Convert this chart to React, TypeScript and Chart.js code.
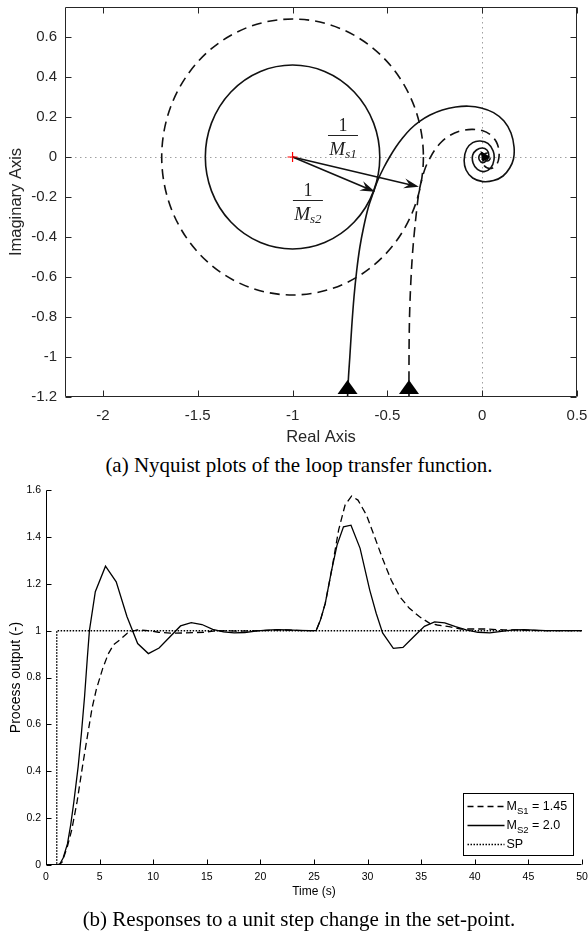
import React, { useEffect, useRef } from "react";
import { Chart, registerables } from "chart.js";
Chart.register(...registerables);

// ---------- (a) Nyquist plot data ----------
const nyqMs2X = [-0.710, -0.705, -0.698, -0.688, -0.676, -0.662, -0.645, -0.625, -0.600, -0.575, -0.550, -0.520, -0.488, -0.455, -0.420, -0.378, -0.330, -0.275, -0.210, -0.140, -0.070, -0.005, 0.060, 0.115, 0.152, 0.168, 0.165, 0.145, 0.110, 0.060, 0.003, -0.050, -0.085, -0.095, -0.082, -0.050, -0.010, 0.030, 0.058, 0.062, 0.045, 0.010, -0.025, -0.048, -0.050, -0.030, 0.000, 0.025, 0.035, 0.025, 0.003, -0.015, -0.015, 0.000, 0.012];
const nyqMs2Y = [-1.200, -1.100, -1.000, -0.850, -0.700, -0.570, -0.450, -0.350, -0.250, -0.180, -0.115, -0.055, 0.000, 0.050, 0.095, 0.140, 0.178, 0.210, 0.235, 0.250, 0.254, 0.245, 0.222, 0.180, 0.120, 0.050, -0.010, -0.055, -0.095, -0.118, -0.123, -0.105, -0.065, -0.015, 0.040, 0.072, 0.080, 0.068, 0.030, -0.015, -0.055, -0.073, -0.062, -0.030, 0.010, 0.035, 0.045, 0.035, 0.010, -0.015, -0.028, -0.015, 0.008, 0.018, 0.005];
const nyqMs1X = [-0.386, -0.386, -0.385, -0.382, -0.376, -0.368, -0.358, -0.346, -0.334, -0.318, -0.298, -0.275, -0.250, -0.215, -0.170, -0.115, -0.055, 0.000, 0.045, 0.075, 0.088, 0.088, 0.078, 0.055, 0.028, 0.008, 0.000, 0.008, 0.028, 0.042, 0.040, 0.025, 0.012];
const nyqMs1Y = [-1.200, -1.050, -0.900, -0.760, -0.620, -0.490, -0.380, -0.270, -0.180, -0.110, -0.050, -0.005, 0.035, 0.075, 0.108, 0.130, 0.138, 0.132, 0.110, 0.075, 0.035, -0.005, -0.035, -0.055, -0.055, -0.040, -0.015, 0.010, 0.020, 0.008, -0.012, -0.020, -0.008];
const circleCenter = [-1, 0];
const circleRadii = [0.69, 0.46]; // 1/Ms1 (dashed), 1/Ms2 (solid)
const arrowTipsX = [-0.334, -0.565];
const arrowTipsY = [-0.149, -0.174];
const fracLabels = ["s1", "s2"];
const fracX = [-0.734, -0.919];
const fracY = [0.11, -0.215];
const nyqXTicks = [-2, -1.5, -1, -0.5, 0, 0.5];
const nyqYTicks = [-1.2, -1, -0.8, -0.6, -0.4, -0.2, 0, 0.2, 0.4, 0.6];

// ---------- (b) Step response data ----------
const timeMs2 = [0, 1.0, 1.3, 1.6, 2.0, 2.3, 2.6, 3.0, 3.3, 3.6, 3.85, 4.05, 4.6, 5.55, 6.55, 7.55, 8.55, 9.55, 10.55, 12.55, 13.55, 14.55, 15.55, 16.55, 17.55, 18.55, 19.55, 20.55, 21.55, 22.55, 23.55, 24.55, 25.2, 25.6, 26.05, 26.65, 27.15, 27.75, 28.45, 29.3, 30.2, 30.8, 31.4, 32.4, 33.3, 34.3, 35.3, 36.25, 37.2, 38.2, 39.2, 40.3, 41.4, 42.5, 43.6, 44.6, 45.6, 46.6, 47.6, 48.6, 50];
const outMs2 = [0, 0, 0.005, 0.03, 0.09, 0.17, 0.27, 0.42, 0.56, 0.72, 0.88, 1.0, 1.166, 1.275, 1.208, 1.06, 0.945, 0.902, 0.926, 1.02, 1.034, 1.026, 1.005, 0.995, 0.99, 0.992, 0.998, 1.002, 1.004, 1.003, 1.001, 1.0, 1.0, 1.045, 1.116, 1.259, 1.365, 1.443, 1.45, 1.351, 1.173, 1.074, 0.99, 0.924, 0.928, 0.974, 1.018, 1.037, 1.033, 1.017, 1.003, 0.993, 0.99, 0.997, 1.003, 1.004, 1.002, 1.0, 1.0, 1.0, 1.0];
const timeMs1 = [0, 1.2, 1.5, 2.0, 2.4, 2.9, 3.4, 3.9, 4.3, 4.7, 5.3, 5.8, 6.3, 7.0, 7.6, 8.5, 9.5, 10.5, 11.6, 13.0, 14.7, 16.0, 18.0, 20.0, 22.0, 24.0, 25.2, 25.6, 26.05, 26.65, 27.3, 27.9, 28.5, 29.1, 29.9, 30.7, 31.45, 32.2, 33.0, 33.9, 34.85, 35.8, 36.5, 37.6, 38.7, 40.9, 42.7, 44.0, 46.0, 48.0, 50];
const outMs1 = [0, 0, 0.012, 0.08, 0.15, 0.27, 0.42, 0.56, 0.67, 0.75, 0.84, 0.9, 0.94, 0.965, 0.99, 1.003, 1.0, 0.993, 0.989, 0.99, 0.993, 1.0, 0.998, 1.0, 1.003, 1.0, 1.0, 1.045, 1.116, 1.259, 1.43, 1.536, 1.574, 1.557, 1.493, 1.394, 1.301, 1.216, 1.145, 1.095, 1.059, 1.031, 1.024, 1.017, 1.007, 1.007, 1.003, 1.003, 1.0, 1.0, 1.0];
const timeSP = [0, 1, 1, 50];
const outSP = [0, 0, 1, 1];
const respXTicks = [0, 5, 10, 15, 20, 25, 30, 35, 40, 45, 50];
const respYTicks = [0, 0.2, 0.4, 0.6, 0.8, 1, 1.2, 1.4, 1.6];
const legendMain = ["M", "M", "SP"];
const legendSub = ["S1", "S2", ""];
const legendRest = [" = 1.45", " = 2.0", ""];

const SANS = "'Liberation Sans', Arial, sans-serif";
const SERIF = "'Liberation Serif', 'Times New Roman', serif";

const pts = (xs: number[], ys: number[]) => xs.map((x, i) => ({ x, y: ys[i] }));

function frameTicks(id: string, box: boolean, len: number, color: string) {
  return {
    id,
    afterDraw(chart: any) {
      const { ctx, chartArea: a, scales } = chart;
      const x = scales.x, y = scales.y;
      ctx.save();
      ctx.strokeStyle = color;
      ctx.lineWidth = 1;
      ctx.setLineDash([]);
      const L = Math.round(a.left) + 0.5, R = Math.round(a.right) - 0.5;
      const T = Math.round(a.top) + 0.5, B = Math.round(a.bottom) - 0.5;
      ctx.beginPath();
      ctx.moveTo(L, T);
      ctx.lineTo(L, B);
      ctx.lineTo(R, B);
      if (box) {
        ctx.lineTo(R, T);
        ctx.lineTo(L, T);
      }
      ctx.stroke();
      ctx.beginPath();
      x.ticks.forEach((t: any) => {
        const px = Math.round(x.getPixelForValue(t.value)) + 0.5;
        ctx.moveTo(px, B);
        ctx.lineTo(px, B - len);
        if (box) {
          ctx.moveTo(px, T);
          ctx.lineTo(px, T + len);
        }
      });
      y.ticks.forEach((t: any) => {
        const py = Math.round(y.getPixelForValue(t.value)) + 0.5;
        ctx.moveTo(L, py);
        ctx.lineTo(L + len, py);
        if (box) {
          ctx.moveTo(R, py);
          ctx.lineTo(R - len, py);
        }
      });
      ctx.stroke();
      ctx.restore();
    },
  };
}

function drawArrow(ctx: CanvasRenderingContext2D, x1: number, y1: number, x2: number, y2: number) {
  const ang = Math.atan2(y2 - y1, x2 - x1);
  const c = Math.cos(ang), s = Math.sin(ang);
  const Lh = 15, W = 5;
  ctx.beginPath();
  ctx.moveTo(x1, y1);
  ctx.lineTo(x2 - Lh * 0.6 * c, y2 - Lh * 0.6 * s);
  ctx.stroke();
  ctx.beginPath();
  ctx.moveTo(x2, y2);
  ctx.lineTo(x2 - Lh * c + W * s, y2 - Lh * s - W * c);
  ctx.lineTo(x2 - Lh * 0.65 * c, y2 - Lh * 0.65 * s);
  ctx.lineTo(x2 - Lh * c - W * s, y2 - Lh * s + W * c);
  ctx.closePath();
  ctx.fill();
}

const nyquistDecor = {
  id: "nyquistDecor",
  beforeDatasetsDraw(chart: any) {
    const { ctx, chartArea: a, scales } = chart;
    const x = scales.x, y = scales.y;
    ctx.save();
    ctx.beginPath();
    ctx.rect(a.left, a.top, a.right - a.left, a.bottom - a.top);
    ctx.clip();
    ctx.strokeStyle = "#a0a0a0";
    ctx.lineWidth = 1;
    ctx.setLineDash([1.5, 3.5]);
    const x0 = Math.round(x.getPixelForValue(0)) + 0.5;
    const y0 = Math.round(y.getPixelForValue(0)) + 0.5;
    ctx.beginPath();
    ctx.moveTo(x0, a.top);
    ctx.lineTo(x0, a.bottom);
    ctx.moveTo(a.left, y0);
    ctx.lineTo(a.right, y0);
    ctx.stroke();
    ctx.strokeStyle = "#111";
    ctx.lineWidth = 1.6;
    const cx = x.getPixelForValue(circleCenter[0]);
    const cy = y.getPixelForValue(circleCenter[1]);
    circleRadii.forEach((r, i) => {
      ctx.setLineDash(i === 0 ? [10, 6] : []);
      const rx = x.getPixelForValue(circleCenter[0] + r) - cx;
      const ry = cy - y.getPixelForValue(circleCenter[1] + r);
      ctx.beginPath();
      ctx.ellipse(cx, cy, rx, ry, 0, 0, Math.PI * 2);
      ctx.stroke();
    });
    ctx.restore();
  },
  afterDatasetsDraw(chart: any) {
    const { ctx, scales } = chart;
    const x = scales.x, y = scales.y;
    ctx.save();
    ctx.setLineDash([]);
    const cx = x.getPixelForValue(circleCenter[0]);
    const cy = y.getPixelForValue(circleCenter[1]);
    ctx.strokeStyle = "#111";
    ctx.fillStyle = "#111";
    ctx.lineWidth = 1.5;
    arrowTipsX.forEach((tx, i) => {
      drawArrow(ctx, cx, cy, x.getPixelForValue(tx), y.getPixelForValue(arrowTipsY[i]));
    });
    ctx.strokeStyle = "#ff0000";
    ctx.lineWidth = 1.2;
    ctx.beginPath();
    ctx.moveTo(cx - 5, cy);
    ctx.lineTo(cx + 5, cy);
    ctx.moveTo(cx, cy - 5);
    ctx.lineTo(cx, cy + 5);
    ctx.stroke();
    ctx.fillStyle = "#222";
    ctx.strokeStyle = "#222";
    ctx.lineWidth = 1;
    fracLabels.forEach((sub, i) => {
      const fx = x.getPixelForValue(fracX[i]);
      const fy = Math.round(y.getPixelForValue(fracY[i])) + 0.5;
      ctx.beginPath();
      ctx.moveTo(fx - 15, fy);
      ctx.lineTo(fx + 15, fy);
      ctx.stroke();
      ctx.textAlign = "center";
      ctx.textBaseline = "alphabetic";
      ctx.font = `18px ${SERIF}`;
      ctx.fillText("1", fx, fy - 5);
      ctx.font = `italic 19px ${SERIF}`;
      const mw = ctx.measureText("M").width;
      ctx.font = `italic 13px ${SERIF}`;
      const sw = ctx.measureText(sub).width;
      const start = fx - (mw + sw) / 2;
      ctx.textAlign = "left";
      ctx.font = `italic 19px ${SERIF}`;
      ctx.fillText("M", start, fy + 19);
      ctx.font = `italic 13px ${SERIF}`;
      ctx.fillText(sub, start + mw, fy + 22);
    });
    ctx.fillStyle = "#000";
    [nyqMs2X[0], nyqMs1X[0]].forEach((sx, i) => {
      const px = x.getPixelForValue(sx);
      const py = y.getPixelForValue(i === 0 ? nyqMs2Y[0] : nyqMs1Y[0]);
      ctx.beginPath();
      ctx.moveTo(px, py - 17);
      ctx.lineTo(px - 10, py - 3);
      ctx.lineTo(px + 10, py - 3);
      ctx.closePath();
      ctx.fill();
    });
    const sx = x.getPixelForValue(nyqMs2X[nyqMs2X.length - 1]);
    const sy = y.getPixelForValue(nyqMs2Y[nyqMs2Y.length - 1]);
    ctx.beginPath();
    ctx.moveTo(sx + 6, sy + 1);
    ctx.lineTo(sx - 4, sy - 5);
    ctx.lineTo(sx - 2, sy + 6);
    ctx.closePath();
    ctx.fill();
    ctx.restore();
  },
};

const responseLegend = {
  id: "responseLegend",
  afterDraw(chart: any) {
    const { ctx, chartArea: a } = chart;
    const left = Math.round(a.right - 119) + 0.5;
    const right = Math.round(a.right - 9) + 0.5;
    const top = Math.round(a.bottom - 72) + 0.5;
    const bottom = Math.round(a.bottom - 10) + 0.5;
    ctx.save();
    ctx.fillStyle = "#fff";
    ctx.fillRect(left, top, right - left, bottom - top);
    ctx.strokeStyle = "#000";
    ctx.lineWidth = 1;
    ctx.setLineDash([]);
    ctx.strokeRect(left, top, right - left, bottom - top);
    const dashes = [[6, 4], [], [1.5, 1.5]];
    const widths = [1.3, 1.3, 1.5];
    legendMain.forEach((m, i) => {
      const rowY = Math.round(a.bottom - 59 + i * 19) + 0.5;
      ctx.strokeStyle = "#000";
      ctx.lineWidth = widths[i];
      ctx.setLineDash(dashes[i]);
      ctx.beginPath();
      ctx.moveTo(left + 4, rowY);
      ctx.lineTo(left + 41, rowY);
      ctx.stroke();
      ctx.fillStyle = "#000";
      ctx.textAlign = "left";
      ctx.textBaseline = "middle";
      let tx = left + 43;
      ctx.font = `12.5px ${SANS}`;
      ctx.fillText(m, tx, rowY);
      tx += ctx.measureText(m).width;
      if (legendSub[i]) {
        ctx.font = `9.5px ${SANS}`;
        ctx.fillText(legendSub[i], tx, rowY + 5);
        tx += ctx.measureText(legendSub[i]).width;
      }
      if (legendRest[i]) {
        ctx.font = `12.5px ${SANS}`;
        ctx.fillText(legendRest[i], tx, rowY);
      }
    });
    ctx.restore();
  },
};

export default function App() {
  const topRef = useRef<HTMLCanvasElement>(null);
  const botRef = useRef<HTMLCanvasElement>(null);

  useEffect(() => {
    document.body.style.margin = "0";
    const tickColor = "#262626";
    const c1 = new Chart(topRef.current as HTMLCanvasElement, {
      type: "scatter",
      data: {
        datasets: [
          {
            label: "Ms1",
            data: pts(nyqMs1X, nyqMs1Y),
            showLine: true,
            borderColor: "#111",
            borderWidth: 1.6,
            borderDash: [10, 6],
            pointRadius: 0,
            tension: 0.35,
            fill: false,
          },
          {
            label: "Ms2",
            data: pts(nyqMs2X, nyqMs2Y),
            showLine: true,
            borderColor: "#111",
            borderWidth: 1.6,
            pointRadius: 0,
            tension: 0.35,
            fill: false,
          },
        ],
      },
      options: {
        animation: false,
        responsive: false,
        devicePixelRatio: 1,
        layout: { padding: { top: 7, right: 11, left: 0, bottom: 0 } },
        plugins: { legend: { display: false }, tooltip: { enabled: false } },
        scales: {
          x: {
            type: "linear",
            min: -2.2,
            max: 0.5,
            afterBuildTicks: (s: any) => {
              s.ticks = nyqXTicks.map((v) => ({ value: v }));
            },
            afterFit: (s: any) => {
              s.height = 53;
              s.paddingLeft = 0;
              s.paddingRight = 0;
            },
            grid: { display: false, drawTicks: false },
            border: { display: false },
            ticks: {
              autoSkip: false,
              maxRotation: 0,
              padding: 10,
              color: tickColor,
              font: { family: SANS, size: 15 },
              callback: (v: any) => String(v),
            },
            title: {
              display: true,
              text: "Real Axis",
              color: tickColor,
              font: { family: SANS, size: 16.5 },
              padding: { top: 0, bottom: 3 },
            },
          },
          y: {
            type: "linear",
            min: -1.2,
            max: 0.75,
            afterBuildTicks: (s: any) => {
              s.ticks = nyqYTicks.map((v) => ({ value: v }));
            },
            afterFit: (s: any) => {
              s.width = 65;
              s.paddingTop = 0;
              s.paddingBottom = 0;
            },
            grid: { display: false, drawTicks: false },
            border: { display: false },
            ticks: {
              autoSkip: false,
              padding: 8,
              color: tickColor,
              font: { family: SANS, size: 15 },
              callback: (v: any) => String(v),
            },
            title: {
              display: true,
              text: "Imaginary Axis",
              color: tickColor,
              font: { family: SANS, size: 16.5 },
              padding: { top: 7, bottom: 0 },
            },
          },
        },
      },
      plugins: [nyquistDecor, frameTicks("frameTop", true, 6, tickColor)],
    } as any);

    const c2 = new Chart(botRef.current as HTMLCanvasElement, {
      type: "scatter",
      data: {
        datasets: [
          {
            label: "SP",
            data: pts(timeSP, outSP),
            showLine: true,
            borderColor: "#000",
            borderWidth: 1.5,
            borderDash: [1.5, 1.5],
            pointRadius: 0,
            tension: 0,
          },
          {
            label: "Ms1",
            data: pts(timeMs1, outMs1),
            showLine: true,
            borderColor: "#000",
            borderWidth: 1.3,
            borderDash: [7, 4],
            pointRadius: 0,
            tension: 0,
          },
          {
            label: "Ms2",
            data: pts(timeMs2, outMs2),
            showLine: true,
            borderColor: "#000",
            borderWidth: 1.3,
            pointRadius: 0,
            tension: 0,
          },
        ],
      },
      options: {
        animation: false,
        responsive: false,
        devicePixelRatio: 1,
        layout: { padding: { top: 20, right: 6, left: 0, bottom: 0 } },
        plugins: { legend: { display: false }, tooltip: { enabled: false } },
        scales: {
          x: {
            type: "linear",
            min: 0,
            max: 50,
            afterBuildTicks: (s: any) => {
              s.ticks = respXTicks.map((v) => ({ value: v }));
            },
            afterFit: (s: any) => {
              s.height = 45;
              s.paddingLeft = 0;
              s.paddingRight = 0;
            },
            grid: { display: false, drawTicks: false },
            border: { display: false },
            ticks: {
              autoSkip: false,
              maxRotation: 0,
              padding: 6,
              color: "#000",
              font: { family: SANS, size: 10.5 },
              callback: (v: any) => String(v),
            },
            title: {
              display: true,
              text: "Time (s)",
              color: "#000",
              font: { family: SANS, size: 12 },
              padding: { top: 0, bottom: 10.8 },
            },
          },
          y: {
            type: "linear",
            min: 0,
            max: 1.6,
            afterBuildTicks: (s: any) => {
              s.ticks = respYTicks.map((v) => ({ value: v }));
            },
            afterFit: (s: any) => {
              s.width = 46;
              s.paddingTop = 0;
              s.paddingBottom = 0;
            },
            grid: { display: false, drawTicks: false },
            border: { display: false },
            ticks: {
              autoSkip: false,
              padding: 5,
              color: "#000",
              font: { family: SANS, size: 10.5 },
              callback: (v: any) => String(v),
            },
            title: {
              display: true,
              text: "Process output (-)",
              color: "#000",
              font: { family: SANS, size: 14 },
              padding: { top: 8, bottom: 0 },
            },
          },
        },
      },
      plugins: [frameTicks("frameBot", false, 5, "#000"), responseLegend],
    } as any);

    return () => {
      c1.destroy();
      c2.destroy();
    };
  }, []);

  const capStyle: React.CSSProperties = {
    position: "absolute",
    left: 5,
    width: 588,
    textAlign: "center",
    fontFamily: SERIF,
    fontSize: 21,
    lineHeight: "24px",
    color: "#000",
    whiteSpace: "nowrap",
  };

  return (
    <div style={{ position: "relative", width: 588, height: 931, background: "#fff", overflow: "hidden" }}>
      <canvas ref={topRef} width={588} height={450} style={{ position: "absolute", left: 0, top: 0 }} />
      <div style={{ ...capStyle, top: 453 }}>(a) Nyquist plots of the loop transfer function.</div>
      <canvas ref={botRef} width={588} height={440} style={{ position: "absolute", left: 0, top: 470 }} />
      <div style={{ ...capStyle, top: 907 }}>(b) Responses to a unit step change in the set-point.</div>
    </div>
  );
}
